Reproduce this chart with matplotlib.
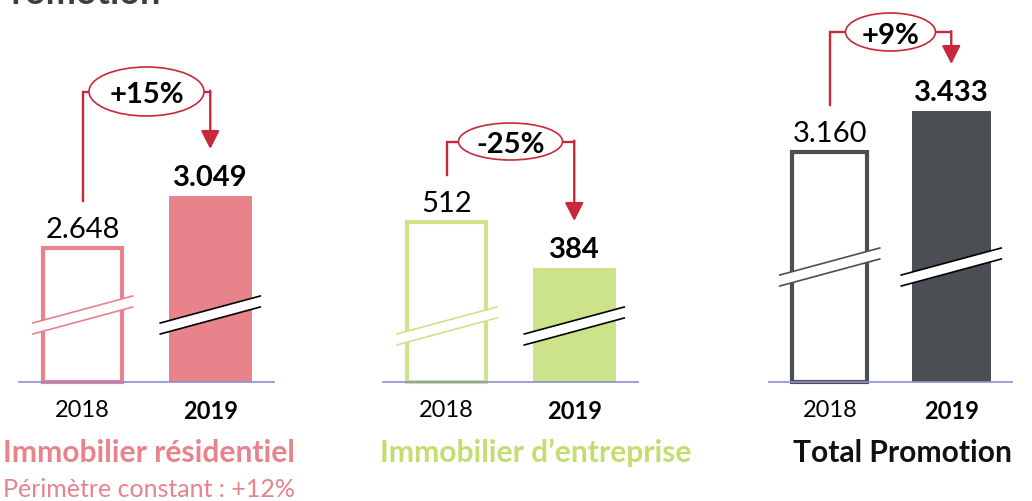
import matplotlib.pyplot as plt
from matplotlib.patches import Ellipse, Polygon
from matplotlib.lines import Line2D

plt.rcParams['font.family'] = ['Lato', 'DejaVu Sans']

# data
categories = ['Immobilier résidentiel', 'Immobilier d’entreprise', 'Total Promotion']
years = ['2018', '2019']
values_2018 = [2648, 512, 3160]
values_2019 = [3049, 384, 3433]
changes = ['+15%', '-25%', '+9%']
subtitle = 'Périmètre constant : +12%'

bar_colors = ['#E8838B', '#CDE38A', '#4B4F54']
title_colors = ['#E8838B', '#C4DD70', '#111111']
red = '#C8283A'
base_color = '#8E8ED2'

W, H = 1032, 502
fig = plt.figure(figsize=(W / 100, H / 100), dpi=100)

# layout in pixels (left, width), plot baseline 383 px from top
layout = [(19, 255), (383, 255), (769, 243)]
# broken value axis: each panel starts well above zero
ylims = [(1615, 4568), (67, 1132), (1628, 4179)]
ell_y = [92.5, 142.5, 33]
ell_size = [(115, 49), (104, 37), (90, 38)]
break_y = [316, 327, 268]
base_px = 383


def fmt(v):
    return f'{v:,}'.replace(',', '.')


def fig_line(xs, ys, **kw):
    fig.add_artist(Line2D([x / W for x in xs], [y / H for y in ys],
                          transform=fig.transFigure, **kw))


for i, cat in enumerate(categories):
    left, width = layout[i]
    ax = fig.add_axes([left / W, (H - base_px) / H, width / W, base_px / H])
    ax.set_xlim(-0.5, 1.5)
    ax.set_ylim(*ylims[i])
    y0 = ylims[i][0]
    c = bar_colors[i]
    v18, v19 = values_2018[i], values_2019[i]

    ax.bar(0, v18 - y0, bottom=y0, width=0.62, facecolor='white',
           edgecolor=c, linewidth=3, clip_on=False)
    ax.bar(1, v19 - y0, bottom=y0, width=0.65, color=c)

    for s in ['top', 'left', 'right']:
        ax.spines[s].set_visible(False)
    ax.spines['bottom'].set_color(base_color)
    ax.spines['bottom'].set_linewidth(1.2)
    ax.spines['bottom'].set_zorder(4)
    ax.set_yticks([])
    ax.set_xticks([0, 1], years)
    ax.tick_params(axis='x', length=0, pad=12, labelsize=17)
    ax.get_xticklabels()[1].set_fontweight('bold')

    ax.annotate(fmt(v18), (0, v18), xytext=(0, 11), textcoords='offset pixels',
                ha='center', va='baseline', fontsize=21)
    ax.annotate(fmt(v19), (1, v19), xytext=(0, 11), textcoords='offset pixels',
                ha='center', va='baseline', fontsize=21, fontweight='bold')

    # positions in display pixels
    x0d, t18 = ax.transData.transform((0, v18))
    x1d, t19 = ax.transData.transform((1, v19))

    # broken-axis marks
    my = H - break_y[i]
    for xd, lc in [(x0d, c), (x1d, 'black')]:
        L, r, g = 50, 13.5, 5.5
        up = [(xd - L, my + g - r), (xd + L, my + g + r)]
        lo = [(xd - L, my - g - r), (xd + L, my - g + r)]
        poly = [(x / W, y / H) for x, y in up + lo[::-1]]
        fig.add_artist(Polygon(poly, closed=True, transform=fig.transFigure,
                               facecolor='white', edgecolor='none', zorder=5))
        for seg in (up, lo):
            fig_line([p[0] for p in seg], [p[1] for p in seg], color=lc,
                     lw=1.2, zorder=6)

    # change annotation
    ew, eh = ell_size[i]
    ey = H - ell_y[i]
    cx = (x0d + x1d) / 2
    fig_line([x0d, x0d, cx - ew / 2], [t18 + 47, ey, ey], color=red, lw=1.7,
             zorder=6, solid_joinstyle='miter')
    fig_line([cx + ew / 2, x1d], [ey, ey], color=red, lw=1.7, zorder=6)
    ax.annotate('', xy=(x1d / W, (t19 + 47) / H), xycoords='figure fraction',
                xytext=(x1d / W, (ey + 0.8) / H), textcoords='figure fraction',
                annotation_clip=False, zorder=6,
                arrowprops=dict(arrowstyle='-|>,head_length=0.55,head_width=0.28',
                                color=red, lw=1.7, shrinkA=0, shrinkB=0,
                                mutation_scale=20))
    fig.add_artist(Ellipse((cx / W, ey / H), ew / W, eh / H,
                           transform=fig.transFigure, facecolor='white',
                           edgecolor=red, lw=1.2, zorder=7))
    fig.text(cx / W, ey / H, changes[i], ha='center', va='center_baseline',
             fontsize=21, fontweight='bold', zorder=8)

# category titles
fig.text(3 / W, (H - 462) / H, categories[0], ha='left', va='baseline',
         fontsize=21.6, fontweight='bold', color=title_colors[0])
fig.text(380 / W, (H - 462) / H, categories[1], ha='left', va='baseline',
         fontsize=21.6, fontweight='bold', color=title_colors[1])
fig.text(1012 / W, (H - 462) / H, categories[2], ha='right', va='baseline',
         fontsize=21.6, fontweight='bold', color=title_colors[2])
fig.text(3 / W, (H - 497) / H, subtitle, ha='left', va='baseline',
         fontsize=18, fontweight='normal', color=title_colors[0])

# cropped heading at the top
fig.text(160 / W, 1 - 4 / H, 'Promotion', ha='right', va='baseline',
         fontsize=26, fontweight='bold', color='#3d3d3d')

fig.savefig('out.png', dpi=100)
